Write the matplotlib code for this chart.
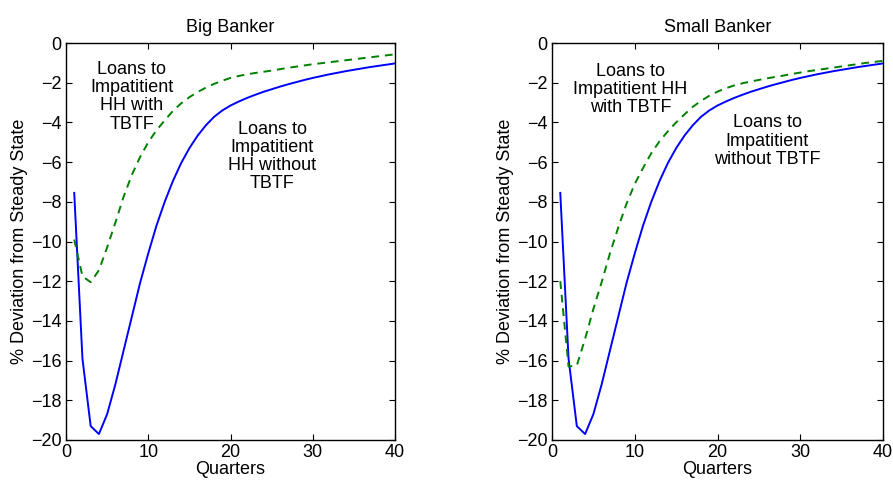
import matplotlib
matplotlib.use("Agg")
import matplotlib.pyplot as plt
from matplotlib.ticker import FixedLocator

plt.rcParams['font.family'] = ['Liberation Sans', 'DejaVu Sans']

quarters = list(range(1, 41))

blue_without_tbtf = [-7.55, -15.9, -19.3, -19.7, -18.7, -17.2, -15.5, -13.8, -12.1, -10.6,
                     -9.2, -8.0, -6.95, -6.05, -5.3, -4.67, -4.15, -3.72, -3.4, -3.15,
                     -2.95, -2.77, -2.61, -2.46, -2.33, -2.2, -2.08, -1.97, -1.86, -1.76,
                     -1.67, -1.58, -1.5, -1.42, -1.35, -1.28, -1.21, -1.15, -1.09, -1.03]

big_with_tbtf = [-9.9, -11.75, -12.05, -11.45, -10.3, -9.05, -7.75, -6.65, -5.75, -5.0,
                 -4.4, -3.9, -3.42, -3.04, -2.73, -2.47, -2.25, -2.06, -1.9, -1.76,
                 -1.66, -1.58, -1.51, -1.45, -1.39, -1.32, -1.25, -1.19, -1.13, -1.07,
                 -1.02, -0.97, -0.92, -0.87, -0.82, -0.77, -0.72, -0.67, -0.62, -0.57]

small_with_tbtf = [-12.0, -16.3, -16.25, -14.9, -13.4, -12.05, -10.6, -9.3, -8.1, -7.1,
                   -6.3, -5.55, -4.95, -4.45, -4.0, -3.6, -3.22, -2.92, -2.66, -2.45,
                   -2.28, -2.14, -2.03, -1.94, -1.86, -1.78, -1.71, -1.64, -1.56, -1.49,
                   -1.42, -1.36, -1.3, -1.24, -1.18, -1.12, -1.06, -1.0, -0.95, -0.9]

titles = ["Big Banker", "Small Banker"]
xticks = [0, 10, 20, 30, 40]
yticks = list(range(0, -21, -2))
labels_left = ["Loans to\nImpatitient\nHH with\nTBTF", "Loans to\nImpatitient\nHH without\nTBTF"]
labels_right = ["Loans to\nImpatitient HH\nwith TBTF", "Loans to\nImpatitient\nwithout TBTF"]

W, H = 893, 480
fig = plt.figure(figsize=(W / 100, H / 100), dpi=100)

def make_ax(left_px, right_px):
    return fig.add_axes([left_px / W, (H - 440) / H, (right_px - left_px) / W, 397 / H])

axL = make_ax(66, 395)
axR = make_ax(552, 883)

panels = [
    (axL, big_with_tbtf, labels_left, [(8.0, -2.7), (25.1, -5.72)]),
    (axR, small_with_tbtf, labels_right, [(9.5, -2.34), (26.0, -4.94)]),
]

for i, (ax, green, labs, pos) in enumerate(panels):
    ax.plot(quarters, blue_without_tbtf, color='#0000ff', lw=1.4)
    ax.plot(quarters, green, color='#008000', lw=1.4, ls=(0, (4, 3)))
    ax.set_xlim(0, 40)
    ax.set_ylim(-20, 0)
    ax.xaxis.set_major_locator(FixedLocator(xticks))
    ax.yaxis.set_major_locator(FixedLocator(yticks))
    ax.tick_params(direction='in', top=True, right=True, length=4, width=0.8,
                   labelsize=13, pad=3)
    for sp in ax.spines.values():
        sp.set_linewidth(1.0)
    ax.set_title(titles[i], fontsize=13, pad=8)
    ax.set_xlabel("Quarters", fontsize=13, labelpad=0)
    ax.set_ylabel("% Deviation from Steady State", fontsize=13, labelpad=2)
    for (tx, ty), lab in zip(pos, labs):
        ax.text(tx, ty, lab, ha='center', va='center', fontsize=13, linespacing=1.1)

fig.savefig("out.png", dpi=100)
